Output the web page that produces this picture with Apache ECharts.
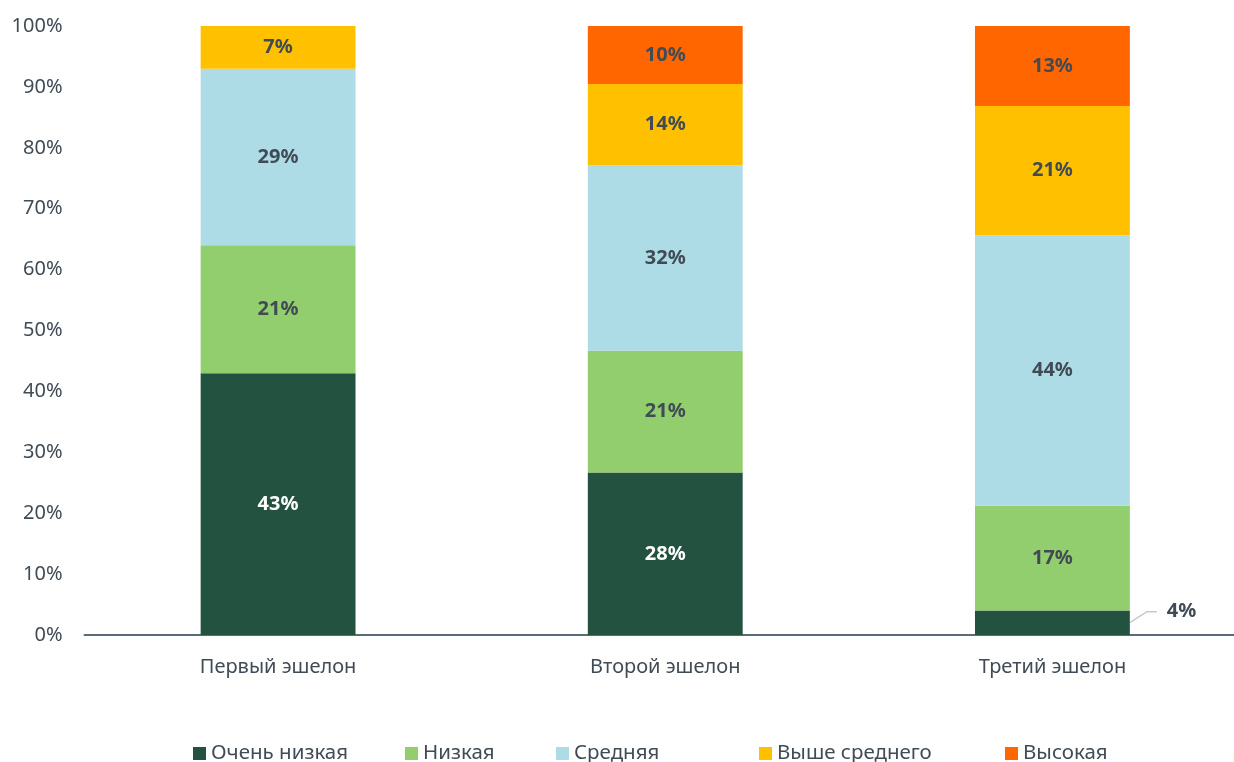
<!DOCTYPE html>
<html>
<head>
<meta charset="utf-8">
<script src="https://cdn.jsdelivr.net/npm/echarts@6/dist/echarts.min.js"></script>
<style>
  html, body { margin: 0; padding: 0; background: #fff; }
  #chart { width: 1234px; height: 762px; }
</style>
</head>
<body>
<div id="chart"></div>
<script>
// Categories and stacked shares (percent labels as stated per segment)
const categories = ['Первый эшелон', 'Второй эшелон', 'Третий эшелон'];
const seriesNames = ['Очень низкая', 'Низкая', 'Средняя', 'Выше среднего', 'Высокая'];
const veryLow = [43, 28, 4];
const low = [21, 21, 17];
const medium = [29, 32, 44];
const aboveMedium = [7, 14, 21];
const high = [0, 10, 13];
const yTicks = [0, 10, 20, 30, 40, 50, 60, 70, 80, 90, 100];

const colors = ['#245240', '#92cd6e', '#addce6', '#ffc000', '#ff6600'];
const labelColors = ['#ffffff', '#404b55', '#404b55', '#404b55', '#404b55'];
const legendLeft = [193, 405, 556, 759, 1005];
const raw = [veryLow, low, medium, aboveMedium, high];

// each column is scaled to 100%
const totals = categories.map((_, i) => raw.reduce((s, arr) => s + arr[i], 0));

const FONT = '"Noto Sans", "Open Sans", sans-serif';
const TEXT = '#404b55';
const BAR_RATIO = 0.4;
const SMALL = 8; // segments below this get an outside label

const series = raw.map((arr, si) => ({
  name: seriesNames[si],
  type: 'bar',
  stack: 'total',
  barWidth: (BAR_RATIO * 100) + '%',
  itemStyle: { color: colors[si] },
  data: arr.map((v, i) => {
    const item = { value: v > 0 ? v / totals[i] * 100 : null, raw: v };
    if (si === 0 && v < SMALL) {
      item.label = { show: true, position: 'right', color: TEXT, distance: 5 };
    }
    return item;
  }),
  labelLayout: p => (si === 0 && raw[0][p.dataIndex] < SMALL) ? { dx: 32, dy: -11 } : null,
  label: {
    show: true,
    position: 'inside',
    color: labelColors[si],
    fontFamily: FONT,
    fontWeight: 'bold',
    fontSize: 20,
    formatter: p => p.data.raw > 0 ? p.data.raw + '%' : ''
  }
}));

// one legend block per entry so each sits at its own place on the bottom row
const legends = seriesNames.map((name, i) => ({
  data: [name],
  left: legendLeft[i],
  top: 743,
  itemWidth: 13,
  itemHeight: 13,
  itemGap: 0,
  icon: 'rect',
  padding: 0,
  selectedMode: false,
  textStyle: { fontFamily: FONT, fontSize: 20.5, color: TEXT, padding: [0, 0, 0, 0] }
}));

const chart = echarts.init(document.getElementById('chart'), null, { renderer: 'canvas' });
chart.setOption({
  animation: false,
  color: colors,
  grid: { left: 84.5, top: 26, right: -12, height: 609, containLabel: false, outerBoundsMode: 'none' },
  legend: legends,
  xAxis: {
    type: 'category',
    data: categories,
    axisTick: { show: false },
    axisLine: { lineStyle: { color: '#5f6b74', width: 2 } },
    axisLabel: { fontFamily: FONT, fontSize: 20, color: TEXT, margin: 22 }
  },
  yAxis: {
    type: 'value',
    min: yTicks[0],
    max: yTicks[yTicks.length - 1],
    interval: yTicks[1] - yTicks[0],
    splitLine: { show: false },
    axisLine: { show: false },
    axisTick: { show: false },
    axisLabel: { fontFamily: FONT, fontSize: 20, color: TEXT, margin: 22, formatter: '{value}%' }
  },
  series: series
});

// leader lines for small outside-labelled segments, placed through the axes
const step = chart.convertToPixel({ xAxisIndex: 0 }, 1) - chart.convertToPixel({ xAxisIndex: 0 }, 0);
const leaders = [];
raw[0].forEach((v, i) => {
  if (v >= SMALL) return;
  const share = v / totals[i] * 100;
  const [cx, yTop] = chart.convertToPixel({ gridIndex: 0 }, [i, share]);
  const yBase = chart.convertToPixel({ yAxisIndex: 0 }, 0);
  const x0 = cx + step * BAR_RATIO / 2;
  const y0 = (yTop + yBase) / 2;
  leaders.push({
    type: 'polyline',
    silent: true,
    shape: { points: [[x0, y0], [x0 + 17, y0 - 11], [x0 + 27, y0 - 11]] },
    style: { stroke: '#c3c9ce', lineWidth: 1.5, fill: null }
  });
});
chart.setOption({ graphic: leaders });
</script>
</body>
</html>
